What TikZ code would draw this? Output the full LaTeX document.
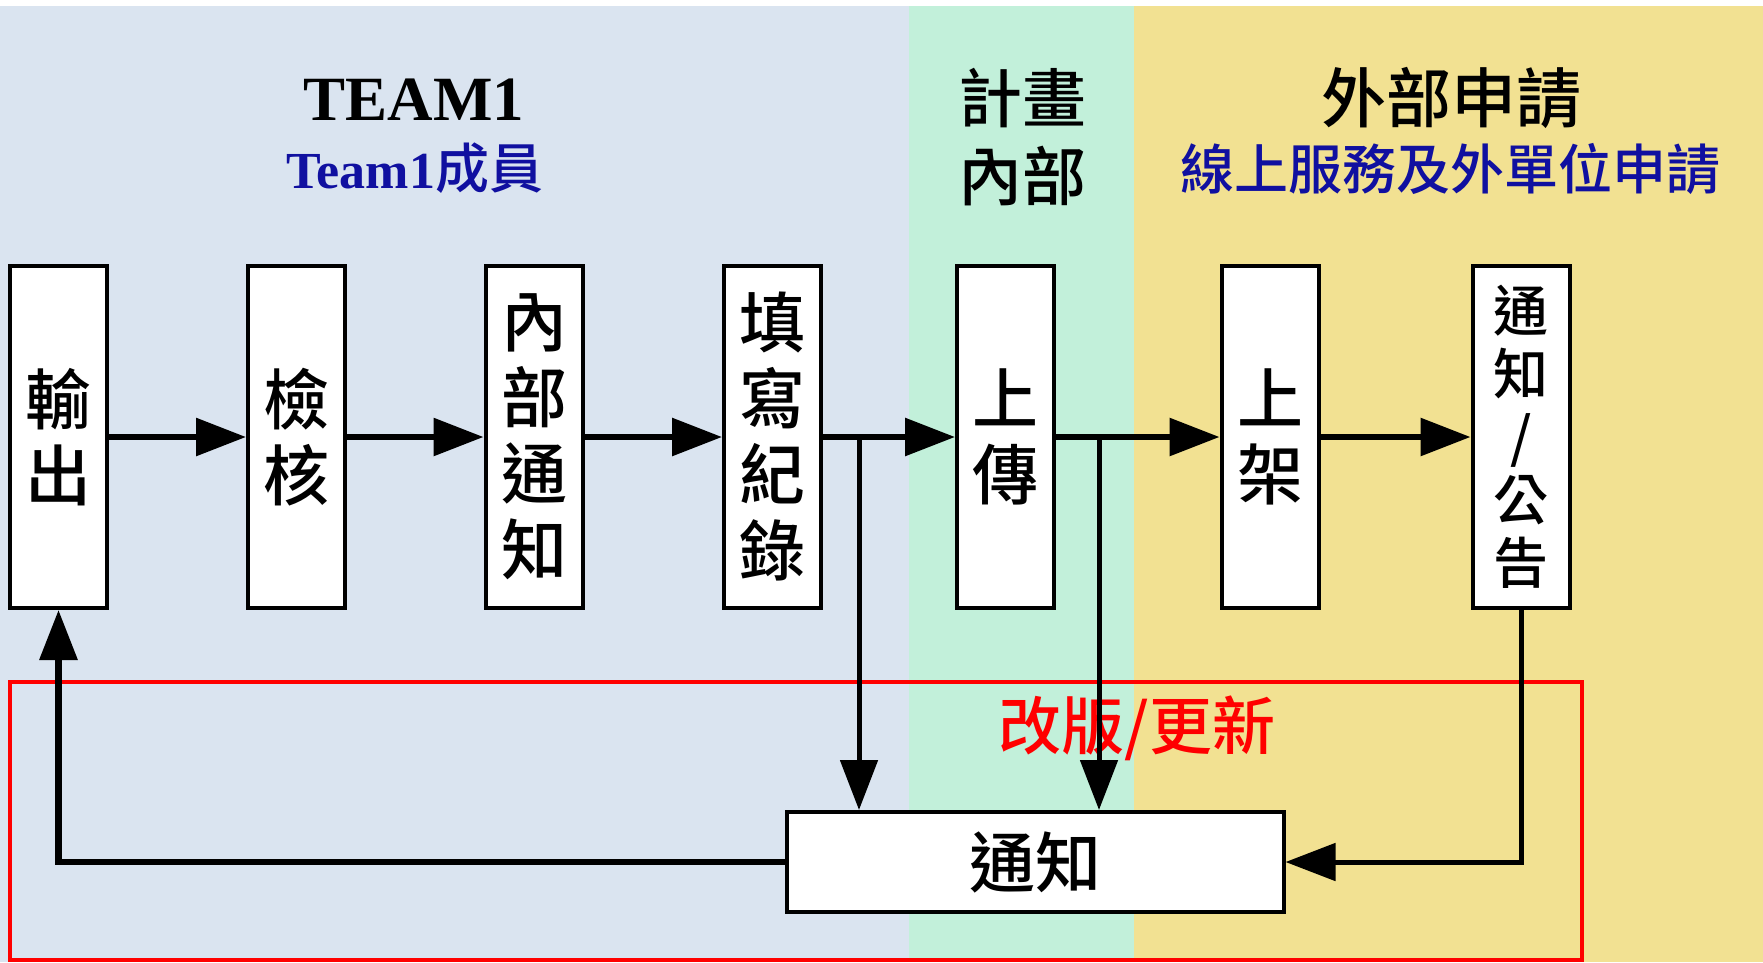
\documentclass[tikz,border=0pt]{standalone}
\usepackage{fontspec}
\setmainfont{Liberation Serif}
\newfontfamily\cjk{Noto Sans CJK TC Medium}
\usetikzlibrary{arrows.meta}
\definecolor{bgblue}{RGB}{218,228,240}
\definecolor{bggreen}{RGB}{194,240,218}
\definecolor{bgyellow}{RGB}{242,225,146}
\definecolor{txtblue}{RGB}{16,16,160}
\tikzset{
  stepbox/.style={draw=black, line width=4pt, fill=white, minimum width=97pt,
    minimum height=342pt, inner sep=0pt, align=center,
    font=\cjk\fontsize{66}{76}\selectfont},
  flow/.style={line width=6pt, -{Triangle[length=50pt,width=37pt]}},
  hdr/.style={inner sep=0pt, anchor=base},
}
\begin{document}
\begin{tikzpicture}[x=1pt,y=-1pt]
\useasboundingbox (0,0) rectangle (1763,962);
% backgrounds
\fill[white] (0,0) rectangle (1763,962);
\fill[bgblue] (0,6) rectangle (909,962);
\fill[bggreen] (909,6) rectangle (1134,962);
\fill[bgyellow] (1134,6) rectangle (1763,962);
% headers
\node[inner sep=0pt, font=\bfseries\fontsize{63}{63}\selectfont] (t1) at (414,100) {TEAM1};
\node[hdr, text=txtblue] (t1m) at (415,188) {\fontsize{52}{52}\selectfont\bfseries Team1\mdseries\cjk\fontsize{54}{54}\selectfont 成員};
\node[hdr, font=\cjk\fontsize{64}{64}\selectfont] (p1) at (1022,122) {計畫};
\node[hdr, font=\cjk\fontsize{64}{64}\selectfont] (p2) at (1022,200) {內部};
\node[hdr, font=\cjk\fontsize{65}{65}\selectfont] (e1) at (1451,122) {外部申請};
\node[hdr, text=txtblue, font=\cjk\fontsize{54}{54}\selectfont] (e2) at (1450,189) {線上服務及外單位申請};
% red frame
\draw[red, line width=4pt] (10,682) rectangle (1582,960);
\node[inner sep=0pt, text=red, font=\cjk\fontsize{63}{63}\selectfont] (rev) at (1137,728) {改版/更新};
% boxes
\node[stepbox] (out) at (58.5,437) {輸\\出};
\node[stepbox] (chk) at (296.5,437) {檢\\核};
\node[stepbox] (inn) at (534,437) {內\\部\\通\\知};
\node[stepbox] (rec) at (772.5,437) {填\\寫\\紀\\錄};
\node[stepbox] (upl) at (1005.5,437) {上\\傳};
\node[stepbox] (shf) at (1270,437) {上\\架};
\node[stepbox, font=\cjk\fontsize{55}{63}\selectfont] (pub) at (1521,437) {通\\知\\/\\公\\告};
\node[draw=black, line width=4pt, fill=white, minimum width=497pt, minimum height=100pt,
  inner sep=0pt, font=\cjk\fontsize{66}{66}\selectfont] (ntf) at (1035,862) {通知};
% branch points
\coordinate (b1) at (859,437);
\coordinate (b2) at (1099,437);
% connectors
\draw[flow] (out) -- (chk);
\draw[flow] (chk) -- (inn);
\draw[flow] (inn) -- (rec);
\draw[flow] (rec) -- (upl);
\draw[flow] (upl) -- (shf);
\draw[flow] (shf) -- (pub);
\draw[flow, line width=5pt] (b1) -- (b1 |- ntf.north);
\draw[flow, line width=5pt] (b2) -- (b2 |- ntf.north);
\draw[flow, line width=5pt] (pub.south) |- (ntf.east);
\draw[flow, line width=6.5pt] (ntf.west) -| (out.south);
\end{tikzpicture}
\end{document}
